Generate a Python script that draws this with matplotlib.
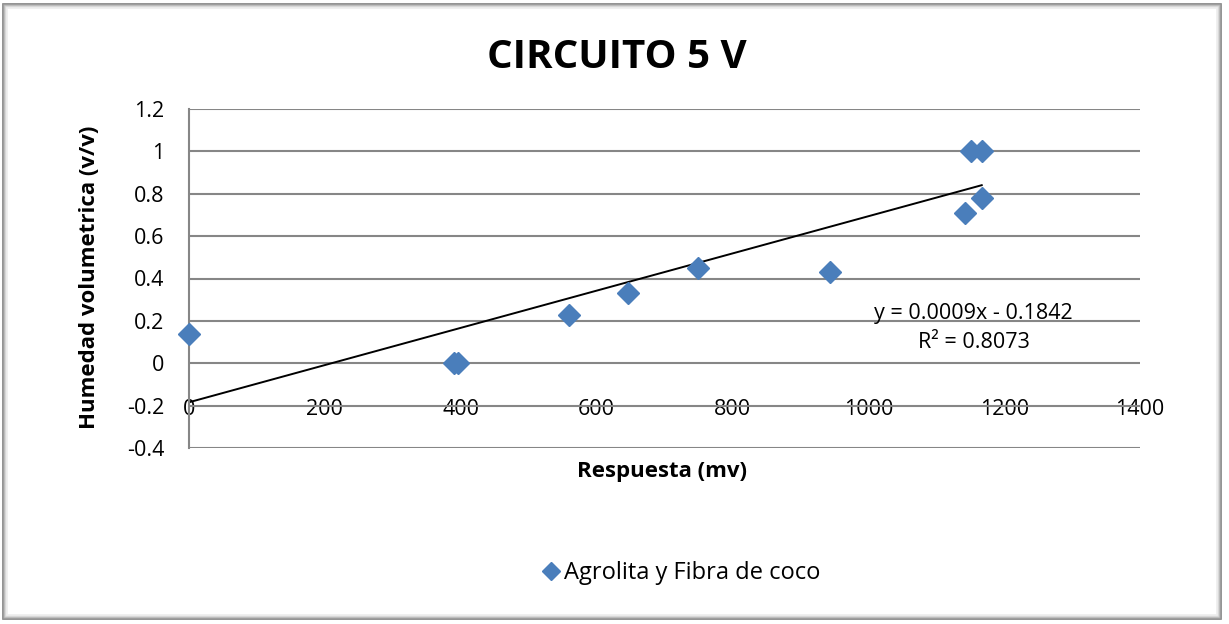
import numpy as np
import matplotlib.pyplot as plt
from matplotlib.patches import Rectangle

# valores
respuesta = [0, 390, 396, 559, 646, 749, 944, 1142, 1151, 1167, 1167]
humedad = [0.14, 0.0, 0.0, 0.23, 0.33, 0.45, 0.43, 0.71, 1.0, 1.0, 0.78]
pendiente = 0.000878
intercepto = -0.1842
ecuacion = 'y = 0.0009x - 0.1842\nR² = 0.8073'
xticks = [0, 200, 400, 600, 800, 1000, 1200, 1400]
yticks = [-0.4, -0.2, 0, 0.2, 0.4, 0.6, 0.8, 1, 1.2]
ytick_labels = ['-0.4', '-0.2', '0', '0.2', '0.4', '0.6', '0.8', '1', '1.2']

plt.rcParams['font.family'] = ['Open Sans', 'DejaVu Sans']

fig = plt.figure(figsize=(12.29, 6.24), dpi=100)
ax = fig.add_axes([189/1229, 1-448/624, (1140-189)/1229, (448-109)/624])

ax.plot(respuesta, humedad, 'D', color='#4A7EBB', ms=11, mec='#4A7EBB',
        label='Agrolita y Fibra de coco', zorder=3, clip_on=False)

xs = np.array([0, max(respuesta)])
ax.plot(xs, pendiente*xs + intercepto, color='black', lw=1.4, zorder=2)

ax.text(1155, 0.165, ecuacion, ha='center', va='center', fontsize=15.5,
        linespacing=1.5)

ax.set_xlim(0, 1400)
ax.set_ylim(-0.4, 1.2)
ax.set_xticks(xticks)
ax.set_xticklabels([str(t) for t in xticks])
ax.set_yticks(yticks)
ax.set_yticklabels(ytick_labels)
ax.grid(axis='y', color='#868686', lw=1.5)
ax.set_axisbelow(True)
for s in ['top', 'right', 'bottom']:
    ax.spines[s].set_visible(False)
ax.spines['left'].set_color('#868686')
ax.spines['left'].set_linewidth(1.5)
ax.spines['bottom'].set_position(('data', -0.2))
ax.tick_params(axis='y', length=0, pad=18, labelsize=15.5)
ax.tick_params(axis='x', length=0, pad=-5, labelsize=15.5)

fig.text(617/1229, 1-58/624, 'CIRCUITO 5 V', ha='center', va='center',
         fontsize=29, fontweight='bold')
fig.text(662/1229, 1-472/624, 'Respuesta (mv)', ha='center', va='center',
         fontsize=16, fontweight='bold')
fig.text(90/1229, 1-277/624, 'Humedad volumetrica (v/v)', ha='center', va='center',
         fontsize=16, fontweight='bold', rotation=90)

fig.legend(loc='center', bbox_to_anchor=(681/1229, 1-573/624), frameon=False,
           fontsize=17, handletextpad=0.15, handlelength=0.8, markerscale=0.85)

# marco exterior con sombra
for i, c in enumerate(['#808080', '#a0a0a0', '#c0c0c0', '#dcdcdc', '#eeeeee']):
    fig.patches.append(Rectangle(((3+i)/1229, (5+i)/624), (1218-2*i)/1229, (615-2*i)/624,
                                 transform=fig.transFigure, fill=False,
                                 edgecolor=c, lw=1.2))

fig.savefig('out.png', dpi=100)
